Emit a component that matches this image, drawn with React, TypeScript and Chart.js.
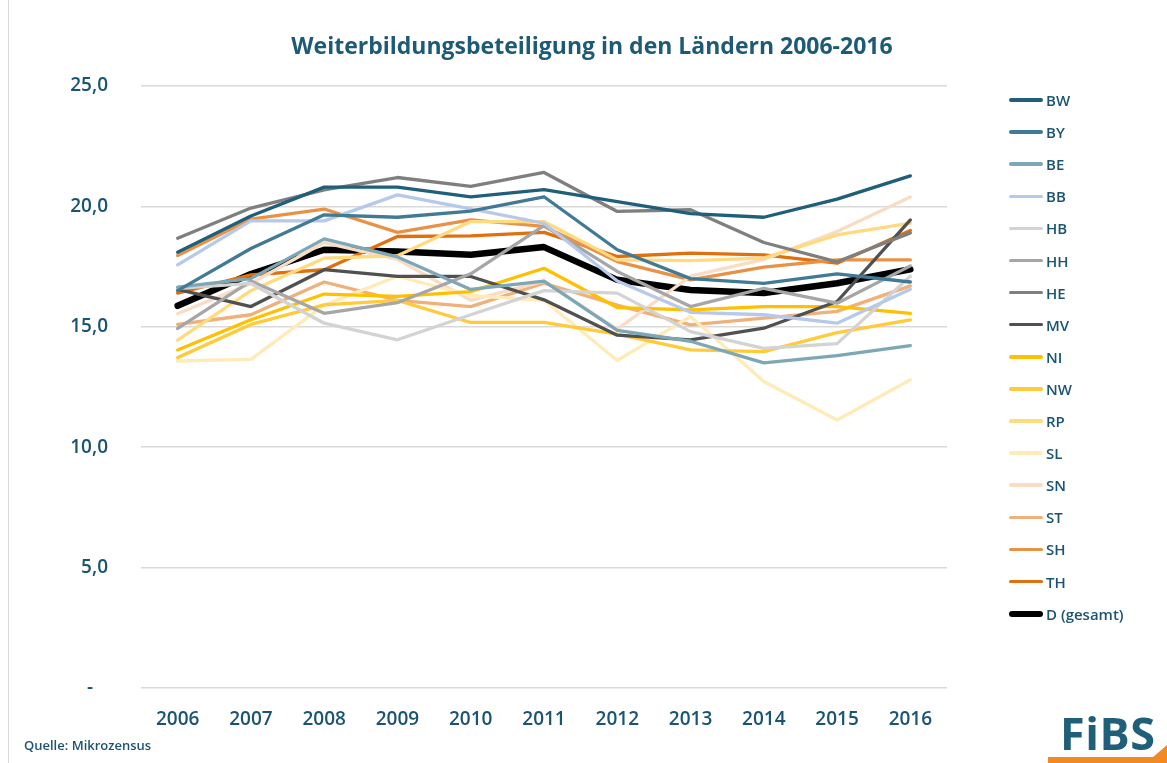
import React, { useEffect, useRef } from "react";
import { Chart, registerables } from "chart.js";

Chart.register(...registerables);

const years = ["2006", "2007", "2008", "2009", "2010", "2011", "2012", "2013", "2014", "2015", "2016"];

const BW = [18.1, 19.6, 20.8, 20.8, 20.4, 20.7, 20.2, 19.7, 19.55, 20.3, 21.27];
const BY = [16.5, 18.25, 19.65, 19.55, 19.8, 20.4, 18.2, 17.0, 16.8, 17.2, 16.86];
const BE = [16.65, 17.0, 18.65, 17.9, 16.55, 16.9, 14.85, 14.4, 13.5, 13.8, 14.22];
const BB = [17.57, 19.4, 19.4, 20.48, 19.9, 19.3, 16.9, 15.6, 15.5, 15.15, 16.56];
const HB = [16.6, 16.8, 15.15, 14.46, 15.5, 16.5, 16.4, 14.8, 14.1, 14.3, 17.1];
const HH = [14.93, 16.9, 15.56, 16.0, 17.2, 19.2, 17.3, 15.84, 16.6, 15.98, 17.53];
const HE = [18.68, 19.93, 20.69, 21.2, 20.83, 21.41, 19.79, 19.86, 18.5, 17.7, 18.9];
const MV = [16.55, 15.84, 17.37, 17.09, 17.09, 16.12, 14.65, 14.46, 14.94, 16.05, 19.44];
const NI = [14.04, 15.29, 16.36, 16.26, 16.46, 17.43, 15.8, 15.7, 15.84, 15.84, 15.56];
const NW = [13.72, 15.1, 15.91, 16.1, 15.18, 15.18, 14.7, 14.04, 13.97, 14.76, 15.29];
const RP = [14.45, 16.5, 17.85, 17.95, 19.37, 19.37, 17.78, 17.75, 17.85, 18.82, 19.31];
const SL = [13.58, 13.65, 15.9, 17.1, 16.3, 16.1, 13.6, 15.43, 12.73, 11.13, 12.8];
const SN = [15.54, 16.8, 18.5, 17.8, 16.1, 16.9, 14.9, 17.1, 17.8, 18.96, 20.39];
const ST = [15.1, 15.5, 16.86, 16.1, 15.84, 16.81, 15.9, 15.08, 15.36, 15.64, 16.7];
const SH = [17.96, 19.47, 19.89, 18.92, 19.44, 19.17, 17.71, 16.95, 17.48, 17.78, 17.78];
const TH = [16.4, 17.16, 17.37, 18.75, 18.78, 18.92, 17.92, 18.06, 17.99, 17.64, 19.0];
const D = [15.87, 17.19, 18.2, 18.13, 17.99, 18.31, 16.95, 16.53, 16.4, 16.81, 17.39];

const seriesNames = ["BW", "BY", "BE", "BB", "HB", "HH", "HE", "MV", "NI", "NW", "RP", "SL", "SN", "ST", "SH", "TH", "D (gesamt)"];
const seriesValues = [BW, BY, BE, BB, HB, HH, HE, MV, NI, NW, RP, SL, SN, ST, SH, TH, D];
const seriesColors = [
  "#1F5F7A", "#417A94", "#7DA7B6", "#B7C9EA", "#D3D3D3", "#A6A6A6", "#7F7F7F", "#505050",
  "#FFC000", "#FFCB3A", "#FFDA7E", "#FFEBB8", "#F8DCC3", "#F0B07A", "#E89246", "#E0700E", "#000000",
];

const yTicks = [0, 5, 10, 15, 20, 25];

const TEXT = "#1B5472";
const FONT = "'Open Sans', 'Noto Sans', sans-serif";

export default function App() {
  const ref = useRef<HTMLCanvasElement>(null);

  useEffect(() => {
    document.body.style.margin = "0";
    const canvas = ref.current;
    if (!canvas) return;
    const datasets = seriesNames.map((name, i) => ({
      label: name,
      data: seriesValues[i],
      borderColor: seriesColors[i],
      backgroundColor: seriesColors[i],
      borderWidth: i === seriesNames.length - 1 ? 6.5 : 3.3,
      pointRadius: 0,
      tension: 0,
      borderJoinStyle: "round" as const,
      borderCapStyle: "round" as const,
    }));
    const chart = new Chart(canvas, {
      type: "line",
      data: { labels: years, datasets },
      options: {
        animation: false,
        responsive: false,
        maintainAspectRatio: false,
        layout: { padding: { left: 0, right: 220, top: 86, bottom: 0 } },
        plugins: { legend: { display: false }, title: { display: false }, tooltip: { enabled: false } },
        scales: {
          x: {
            offset: true,
            grid: { display: false, drawTicks: false },
            border: { display: false },
            ticks: {
              color: TEXT,
              font: { family: FONT, size: 19, weight: 600 },
              padding: 20,
              maxRotation: 0,
            },
            afterFit: (s: any) => { s.height = 75; },
          },
          y: {
            min: 0,
            max: 25,
            afterBuildTicks: (s: any) => { s.ticks = yTicks.map((v) => ({ value: v })); },
            grid: { color: "#D9D9D9", lineWidth: 1.5, drawTicks: false },
            border: { display: false },
            ticks: {
              color: TEXT,
              font: { family: FONT, size: 19, weight: 600 },
              padding: 33,
              callback: (v: any) => (Number(v) === 0 ? "-   " : Number(v).toFixed(1).replace(".", ",")),
            },
            afterFit: (s: any) => { s.width = 141; },
          },
        },
      },
    });
    return () => chart.destroy();
  }, []);

  const legendTop = 100;
  const legendStep = 32.1;

  return (
    <div style={{ position: "relative", width: 1167, height: 763, background: "#fff", overflow: "hidden", fontFamily: FONT }}>
      <div style={{ position: "absolute", left: 8, top: 0, width: 1, height: 763, background: "#D9D9D9" }} />
      <canvas ref={ref} width={1167} height={763} style={{ position: "absolute", left: 0, top: 0 }} />
      <div style={{ position: "absolute", left: 0, width: 1184, top: 28, textAlign: "center", color: "#1D5A76", fontSize: 23, fontWeight: 700, lineHeight: "34px" }}>
        Weiterbildungsbeteiligung in den Ländern 2006-2016
      </div>
      {seriesNames.map((name, i) => {
        const last = i === seriesNames.length - 1;
        const y = legendTop + i * legendStep;
        return (
          <div key={name} style={{ position: "absolute", left: 1009, top: y - 12, height: 24, display: "flex", alignItems: "center" }}>
            <div style={{ width: 34, height: last ? 6 : 3.5, borderRadius: 3, background: seriesColors[i] }} />
            <span style={{ marginLeft: 3, color: TEXT, fontSize: 15, fontWeight: 600 }}>{name}</span>
          </div>
        );
      })}
      <div style={{ position: "absolute", left: 24, top: 736, color: TEXT, fontSize: 13, fontWeight: 600 }}>Quelle: Mikrozensus</div>
      <div style={{ position: "absolute", left: 1060, top: 702, color: "#1F5F7A", fontSize: 45, fontWeight: 700, letterSpacing: 0.5 }}>FiBS</div>
      <div style={{ position: "absolute", left: 1048, top: 757, width: 119, height: 6, background: "#F08A24" }} />
      <div style={{ position: "absolute", left: 1152, top: 745, width: 15, height: 13, background: "#F08A24", clipPath: "polygon(0 100%, 100% 0, 100% 100%)" }} />
    </div>
  );
}
